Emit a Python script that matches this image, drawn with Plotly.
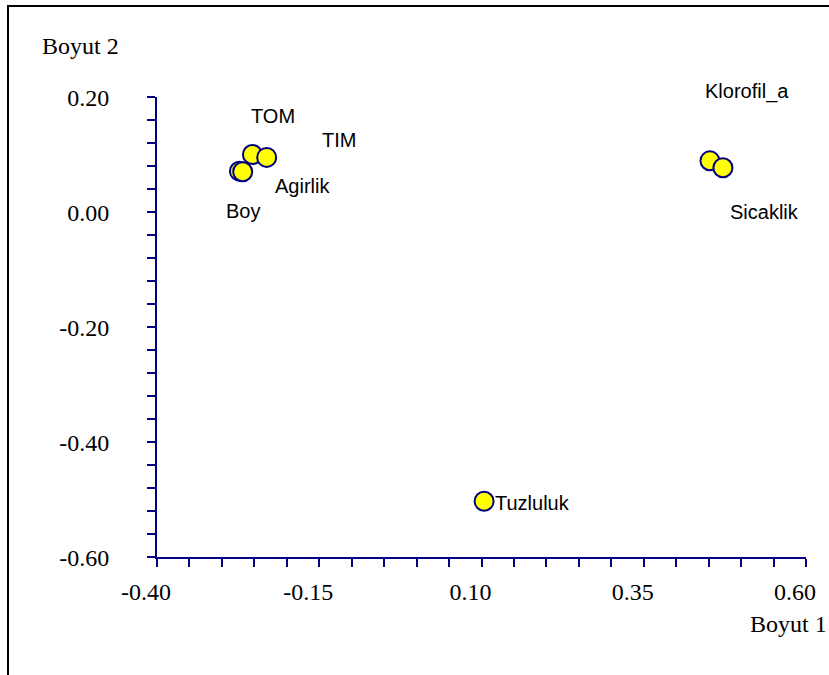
import plotly.graph_objects as go

# Coordinates of each variable in the two-dimensional solution
names = ["Boy", "Agirlik", "TOM", "TIM", "Klorofil_a", "Sicaklik", "Tuzluluk"]
boyut1 = [-0.273, -0.268, -0.253, -0.231, 0.452, 0.472, 0.104]
boyut2 = [0.071, 0.070, 0.100, 0.095, 0.089, 0.077, -0.503]

# Axis tick values and their printed labels
x_ticks = [-0.40, -0.15, 0.10, 0.35, 0.60]
y_ticks = [-0.60, -0.40, -0.20, 0.00, 0.20]
x_ticktext = [f"{v:.2f}" for v in x_ticks]
y_ticktext = [f"{v:.2f}" for v in y_ticks]

# Label placement (pixel offsets from the marker, x right / y up) and anchor
label_offsets = {
    "Boy": (4, -40, "center"),
    "Agirlik": (60, -14, "center"),
    "TOM": (21, 39, "center"),
    "TIM": (72, 17, "center"),
    "Klorofil_a": (37, 69, "center"),
    "Sicaklik": (42, -44, "center"),
    "Tuzluluk": (9, -2, "left"),
}

NAVY = "#000080"
SERIF = "Liberation Serif, Times New Roman, serif"
SANS = "Liberation Sans, Arial, sans-serif"

fig = go.Figure()
fig.add_trace(go.Scatter(
    x=boyut1, y=boyut2, mode="markers",
    marker=dict(size=19, color="#ffff00", line=dict(color=NAVY, width=2)),
    hoverinfo="text", text=names, showlegend=False, cliponaxis=False,
))

annotations = []
for n, xv, yv in zip(names, boyut1, boyut2):
    dx, dy, anchor = label_offsets[n]
    annotations.append(dict(
        x=xv, y=yv, xref="x", yref="y", text=n, showarrow=False,
        xshift=dx, yshift=dy, xanchor=anchor, yanchor="middle",
        font=dict(family=SANS, size=20, color="#000000"),
    ))

annotations.append(dict(
    x=-0.1186, y=1.111, xref="paper", yref="paper", text="Boyut 2",
    showarrow=False, xanchor="center", yanchor="middle",
    font=dict(family=SERIF, size=24, color="#000000"),
))
annotations.append(dict(
    x=1.036, y=-0.146, xref="paper", yref="paper", text="Boyut 1",
    showarrow=False, xanchor="right", yanchor="middle",
    font=dict(family=SERIF, size=24, color="#000000"),
))

axis_common = dict(
    showline=True, linecolor=NAVY, linewidth=2,
    ticks="outside", ticklen=8, tickwidth=2, tickcolor=NAVY,
    showgrid=False, zeroline=False,
    tickfont=dict(family=SERIF, size=24, color="#000000"),
    fixedrange=True,
)

fig.update_layout(
    width=829, height=675,
    margin=dict(l=157, r=23, t=97, b=118),
    paper_bgcolor="#ffffff", plot_bgcolor="#ffffff",
    xaxis=dict(
        range=[-0.40, 0.60], tickvals=x_ticks, ticktext=x_ticktext,
        minor=dict(ticks="outside", ticklen=8, tickwidth=2, tickcolor=NAVY,
                   tick0=-0.40, dtick=0.05),
        ticklabelstandoff=4, ticklabelshift=-11,
        **axis_common,
    ),
    yaxis=dict(
        range=[-0.60, 0.20], tickvals=y_ticks, ticktext=y_ticktext,
        minor=dict(ticks="outside", ticklen=8, tickwidth=2, tickcolor=NAVY,
                   tick0=-0.60, dtick=0.04),
        ticklabelstandoff=33, ticklabelshift=1,
        **axis_common,
    ),
    annotations=annotations,
    shapes=[dict(
        type="rect", xref="paper", yref="paper",
        x0=-0.2296, x1=1.2, y0=-0.4, y1=1.198,
        line=dict(color="#000000", width=2), fillcolor="rgba(0,0,0,0)",
        layer="below",
    )],
)

fig.write_html("out.html")
